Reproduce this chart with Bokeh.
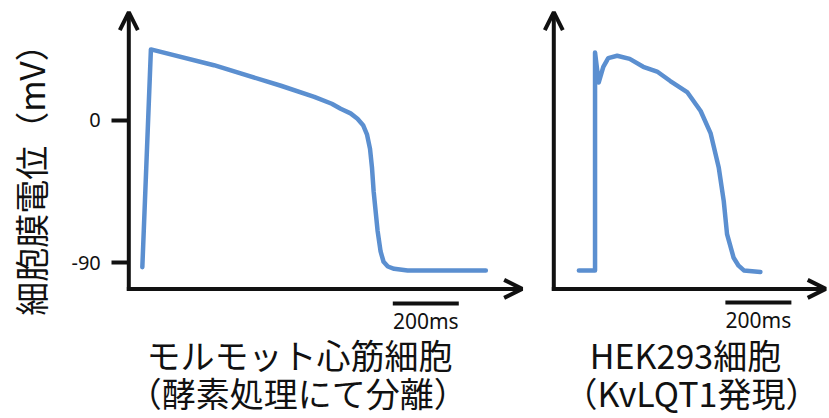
import math
from bokeh.plotting import figure
from bokeh.models import Arrow, OpenHead, FixedTicker, Range1d, ColumnDataSource, LinearAxis
from bokeh.layouts import row
from bokeh.embed import file_html
from bokeh.resources import INLINE
from bokeh.core.properties import value

# ---------------- data ----------------
# Guinea-pig ventricular myocyte action potential (time ms, membrane potential mV)
guinea_t = [41, 67, 258, 461, 562, 615, 642, 672, 693, 710, 722, 731, 737, 742, 754, 763, 772, 785, 804, 845, 1082]
guinea_mv = [-93, 45, 35, 22, 15, 10.6, 7.4, 4.5, 1.1, -3, -9, -18, -30, -45, -70, -83, -89.5, -92.5, -94, -95, -95]

# HEK293 cell (KvLQT1 expression) action potential
hek_t = [76, 125, 125, 136, 150, 165, 192, 230, 271, 313, 353, 404, 445, 475, 500, 515, 525, 545, 560, 576, 626]
hek_mv = [-95, -95, 43, 24, 34, 39.5, 41, 39, 34, 31, 25, 18, 6, -8, -30, -51, -72, -87, -92, -95, -96]

y_ticks = [0, -90]
y_tick_labels = {0: "0", -90: "-90"}
y_label = "細胞膜電位（mV）"
scale_ms = 200
scale_text = "200ms"
left_title = ["モルモット心筋細胞", "（酵素処理にて分離）"]
right_title = ["HEK293細胞", "（KvLQT1発現）"]

# ---------------- style / layout ----------------
TRACE = "#5b8fd0"
INK = "#111111"
JP = "Noto Sans CJK JP"
Y_MIN, Y_MAX = -188.8, 76.0
AXIS_Y = -106.7
ARROW_TOP = 68.6
TITLE_Y = [-148.3, -172.4]


def base_fig(width, x_start, x_end):
    p = figure(width=width, height=418, output_backend="svg", toolbar_location=None,
               x_range=Range1d(x_start, x_end), y_range=Range1d(Y_MIN, Y_MAX),
               x_axis_location=None, y_axis_location=None,
               min_border_left=0, min_border_right=0,
               min_border_top=0, min_border_bottom=0)
    p.outline_line_color = None
    p.grid.visible = False
    p.background_fill_color = "white"
    p.border_fill_color = "white"
    return p


def axes_arrows(p, x_tip):
    head = dict(size=18, line_width=4, line_color=INK)
    p.add_layout(Arrow(end=OpenHead(**head), x_start=0, y_start=AXIS_Y - 1.2,
                       x_end=0, y_end=ARROW_TOP, line_width=4, line_color=INK))
    p.add_layout(Arrow(end=OpenHead(**head), x_start=-6, y_start=AXIS_Y,
                       x_end=x_tip, y_end=AXIS_Y, line_width=4, line_color=INK))


def scale_bar(p, x0, y):
    src = ColumnDataSource(dict(x0=[x0], x1=[x0 + scale_ms], y=[y]))
    p.segment(x0="x0", y0="y", x1="x1", y1="y", source=src, line_width=4, line_color=INK)
    tsrc = ColumnDataSource(dict(x=[x0 + scale_ms / 2], y=[y - 11], t=[scale_text]))
    p.text(x="x", y="y", text="t", source=tsrc, text_align="center", text_baseline="middle",
           text_font=value("Noto Sans"), text_font_size="21px", text_color=INK)


def titles(p, lines, xs):
    src = ColumnDataSource(dict(x=xs, y=TITLE_Y, t=lines))
    p.text(x="x", y="y", text="t", source=src, text_align="center", text_baseline="middle",
           text_font=value(JP), text_font_size="34px", text_color=INK)


# ---- left panel ----
p1 = base_fig(540, -388.8, 1247.6)
yax = LinearAxis(fixed_location=0, ticker=FixedTicker(ticks=y_ticks),
                 major_label_overrides=y_tick_labels)
yax.axis_line_color = None
yax.major_tick_line_width = 4
yax.major_tick_line_color = INK
yax.major_tick_out = 17
yax.major_tick_in = 0
yax.minor_tick_line_color = None
yax.major_label_text_font = "Noto Sans"
yax.major_label_text_font_size = "20px"
yax.major_label_text_color = INK
yax.major_label_standoff = 11
p1.add_layout(yax, "left")

p1.line(guinea_t, guinea_mv, line_width=4.5, line_color=TRACE, line_join="round", line_cap="round")
axes_arrows(p1, 1192)
scale_bar(p1, 800, -116)
titles(p1, left_title, [517, 512])
ysrc = ColumnDataSource(dict(x=[-298], y=[-32.3], t=[y_label]))
p1.text(x="x", y="y", text="t", source=ysrc, angle=math.pi / 2,
        text_align="center", text_baseline="middle",
        text_font=value(JP), text_font_size="34px", text_color=INK)

# ---- right panel ----
p2 = base_fig(289, -40.3, 835.5)
p2.line(hek_t, hek_mv, line_width=4.5, line_color=TRACE, line_join="round", line_cap="round")
axes_arrows(p2, 824)
scale_bar(p2, 520, -115.3)
titles(p2, right_title, [399, 417])

layout = row(p1, p2)
open("out.html", "w").write(file_html(layout, INLINE))
